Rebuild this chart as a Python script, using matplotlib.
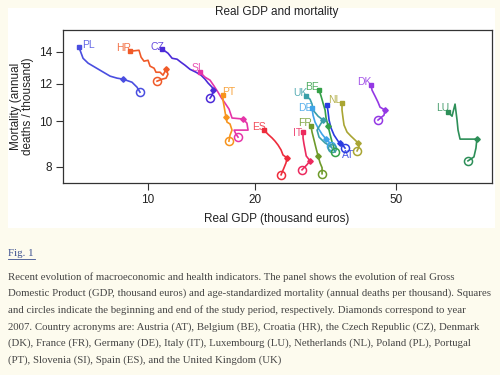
import matplotlib
matplotlib.use("Agg")
import matplotlib.pyplot as plt
from matplotlib.patches import Rectangle

# ---------------- data ----------------
countries = ["PL", "HR", "CZ", "SI", "PT", "ES", "IT", "FR", "DE", "UK", "BE", "AT", "NL", "DK", "LU"]

gdp = {
    "PL": [6.39, 6.56, 6.78, 7.33, 7.82, 8.18, 8.50, 9.01, 9.31, 9.49],
    "HR": [8.90, 9.43, 9.56, 9.74, 10.0, 10.13, 10.40, 10.53, 10.81, 11.02, 11.24, 11.38, 11.24, 10.95, 10.60],
    "CZ": [10.97, 11.38, 11.69, 12.07, 12.38, 12.71, 13.13, 13.65, 14.10, 14.47, 14.76, 15.15, 15.25, 15.15, 14.95],
    "SI": [14.01, 14.47, 14.95, 15.35, 15.74, 16.05, 16.48, 16.91, 17.24, 18.51, 18.99, 19.13, 17.47, 17.70, 17.93],
    "PT": [16.26, 16.26, 16.37, 16.48, 16.58, 16.69, 17.02, 17.24, 17.02, 16.90],
    "ES": [21.22, 21.77, 22.36, 22.79, 23.24, 23.70, 24.00, 24.63, 24.47, 24.16, 23.70],
    "IT": [27.33, 27.33, 27.50, 27.70, 27.90, 28.60, 28.00, 27.15],
    "FR": [28.78, 28.97, 29.35, 29.73, 30.13, 30.52, 30.92, 30.92],
    "DE": [28.97, 29.16, 29.54, 30.13, 30.92, 31.73, 32.35, 32.77],
    "UK": [27.87, 28.60, 28.97, 29.16, 30.13, 31.12, 30.52, 29.93, 30.32, 31.53, 32.56, 32.99],
    "BE": [30.32, 30.72, 31.12, 31.53, 31.73, 32.15, 32.56, 32.99, 33.42, 33.64],
    "AT": [31.94, 32.15, 32.35, 32.77, 33.42, 34.30, 34.74, 35.19, 35.88],
    "NL": [35.19, 35.19, 35.42, 35.65, 36.35, 37.31, 38.30, 39.05, 39.30, 38.80],
    "DK": [42.48, 42.76, 43.60, 44.45, 45.03, 46.50, 46.20, 44.45],
    "LU": [70.0, 71.85, 73.26, 73.73, 74.21, 74.69, 75.67, 79.66, 84.40, 83.90, 82.80, 79.66],
}

mortality = {
    "PL": [14.31, 13.57, 13.25, 12.80, 12.44, 12.32, 12.26, 12.08, 11.79, 11.51],
    "HR": [14.04, 14.11, 13.64, 13.38, 13.44, 13.06, 12.93, 12.68, 12.68, 12.50, 12.86, 12.56, 12.32, 12.26, 12.14],
    "CZ": [14.18, 13.91, 13.57, 13.51, 13.31, 13.12, 12.86, 12.68, 12.50, 12.26, 12.03, 11.79, 11.62, 11.34, 11.18],
    "SI": [12.68, 12.38, 12.20, 11.85, 11.51, 11.23, 10.91, 10.60, 10.15, 10.10, 9.90, 9.57, 9.57, 9.38, 9.25],
    "PT": [11.34, 11.07, 10.76, 10.45, 10.19, 9.95, 9.86, 9.57, 9.34, 9.07],
    "ES": [9.57, 9.38, 9.21, 9.07, 8.90, 8.69, 8.48, 8.36, 8.16, 7.97, 7.70],
    "IT": [9.48, 9.21, 8.94, 8.69, 8.44, 8.24, 8.08, 7.89],
    "FR": [9.76, 9.48, 9.12, 8.77, 8.44, 8.16, 7.97, 7.74],
    "DE": [10.65, 10.29, 9.95, 9.67, 9.38, 9.16, 9.03, 8.86],
    "UK": [11.29, 11.12, 10.86, 10.55, 10.24, 10.05, 9.81, 9.57, 9.25, 8.99, 8.86, 8.77],
    "BE": [11.62, 11.29, 10.91, 10.55, 10.15, 9.76, 9.38, 9.03, 8.77, 8.61],
    "AT": [10.81, 10.45, 10.05, 9.67, 9.34, 9.07, 8.99, 8.94, 8.77],
    "NL": [10.91, 10.55, 10.15, 9.81, 9.48, 9.29, 9.12, 8.99, 8.82, 8.65],
    "DK": [11.91, 11.62, 11.29, 10.96, 10.70, 10.55, 10.29, 10.05],
    "LU": [10.45, 10.24, 10.86, 10.45, 10.05, 9.57, 9.16, 9.16, 9.16, 8.77, 8.40, 8.24],
}

# index of the year 2007 in each series
idx_2007 = {"PL": 6, "HR": 10, "CZ": 12, "SI": 9, "PT": 4, "ES": 7, "IT": 5, "FR": 4,
            "DE": 5, "UK": 5, "BE": 5, "AT": 6, "NL": 7, "DK": 5, "LU": 8}

colors = {"PL": "#4a4ee0", "HR": "#f05a28", "CZ": "#4b2ad8", "SI": "#e535a8", "PT": "#f7941d",
          "ES": "#ee2c3c", "IT": "#ec2a5e", "FR": "#6e9a2a", "DE": "#3fa4e8", "UK": "#3a9fa8",
          "BE": "#35a048", "AT": "#2b3ce0", "NL": "#a9a533", "DK": "#9438e4", "LU": "#2d8f58"}

# label offsets (pixels) relative to the start point (AT: relative to the end point)
label_offsets = {"PL": (9, 2), "HR": (-6, 3), "CZ": (-5, 2), "SI": (-4, 4), "PT": (6, 3),
                 "ES": (-5, 3), "IT": (-5, -1), "FR": (-6, 3), "DE": (-7, 0), "UK": (-6, 3),
                 "BE": (-7, 3), "AT": (3, -7), "NL": (-7, 3), "DK": (-7, 3), "LU": (-5, 4)}

x_ticks = [10, 20, 50]
y_ticks = [8, 10, 12, 14]

caption_lines = [
    "Recent evolution of macroeconomic and health indicators. The panel shows the evolution of real Gross",
    "Domestic Product (GDP, thousand euros) and age-standardized mortality (annual deaths per thousand). Squares",
    "and circles indicate the beginning and end of the study period, respectively. Diamonds correspond to year",
    "2007. Country acronyms are: Austria (AT), Belgium (BE), Croatia (HR), the Czech Republic (CZ), Denmark",
    "(DK), France (FR), Germany (DE), Italy (IT), Luxembourg (LU), Netherlands (NL), Poland (PL), Portugal",
    "(PT), Slovenia (SI), Spain (ES), and the United Kingdom (UK)",
]

# ---------------- figure ----------------
W, H = 500, 375
fig = plt.figure(figsize=(5, 3.75), dpi=100)
fig.patch.set_facecolor("#fdfbee")
fig.patches.append(Rectangle((8 / W, 1 - 228 / H), 487 / W, 220 / H, transform=fig.transFigure,
                             facecolor="white", edgecolor="none", zorder=-5))

ax = fig.add_axes([63 / W, 1 - 183 / H, 429 / W, 153 / H])
ax.set_zorder(2)
ax.set_facecolor("white")
ax.set_xscale("log")
ax.set_yscale("log")
ax.set_xlim(5.76, 93.1)
ax.set_ylim(7.40, 15.57)

for c in countries:
    x, y, col = gdp[c], mortality[c], colors[c]
    ax.plot(x, y, color=col, lw=1.2, solid_joinstyle="round", zorder=2)
    ax.plot(x[0], y[0], marker="s", ms=3.0, color=col, zorder=3)
    d = idx_2007[c]
    ax.plot(x[d], y[d], marker="D", ms=2.8, color=col, zorder=3)
    ax.plot(x[-1], y[-1], marker="o", ms=5.8, mfc="none", mec=col, mew=1.1, zorder=3)
    anchor = (x[-1], y[-1]) if c == "AT" else (x[0], y[0])
    dx, dy = label_offsets[c]
    ax.annotate(c, anchor, xytext=(dx, dy), textcoords="offset pixels", ha="center", va="center",
                color=col, fontsize=7.5, family="Liberation Sans", alpha=0.85, zorder=4)

ax.set_xticks(x_ticks)
ax.set_xticklabels([str(v) for v in x_ticks])
ax.set_yticks(y_ticks)
ax.set_yticklabels([str(v) for v in y_ticks])
ax.xaxis.set_minor_locator(matplotlib.ticker.NullLocator())
ax.yaxis.set_minor_locator(matplotlib.ticker.NullLocator())
ax.tick_params(direction="out", length=5, width=0.8, color="#333333", labelsize=8.5,
               labelcolor="#222222", pad=3)
for lab in ax.get_xticklabels() + ax.get_yticklabels():
    lab.set_family("Liberation Sans")
for s in ax.spines.values():
    s.set_color("#333333")
    s.set_linewidth(0.9)

fig.text(277 / W, 1 - 12 / H, "Real GDP and mortality", ha="center", va="center",
         fontsize=8.5, family="Liberation Sans", color="#222222")
fig.text(277 / W, 1 - 219 / H, "Real GDP (thousand euros)", ha="center", va="center",
         fontsize=8.5, family="Liberation Sans", color="#222222")
fig.text(22 / W, 1 - 106 / H, "Mortality (annual\ndeaths / thousand)", ha="center", va="center",
         rotation=90, fontsize=8.5, family="Liberation Sans", color="#222222", linespacing=1.05)

# caption
fig.text(8 / W, 1 - 254 / H, "Fig. 1", ha="left", va="center", fontsize=7.76,
         family="Liberation Serif", color="#3b4f8f")
fig.add_artist(plt.Line2D([8 / W, 35 / W], [1 - 259 / H, 1 - 259 / H], color="#3b4f8f", lw=0.6))
for i, line in enumerate(caption_lines):
    fig.text(8 / W, 1 - (277 + 16.6 * i) / H, line, ha="left", va="center", fontsize=7.76,
             family="Liberation Serif", color="#444444")

fig.savefig("out.png", dpi=100, facecolor=fig.get_facecolor())
